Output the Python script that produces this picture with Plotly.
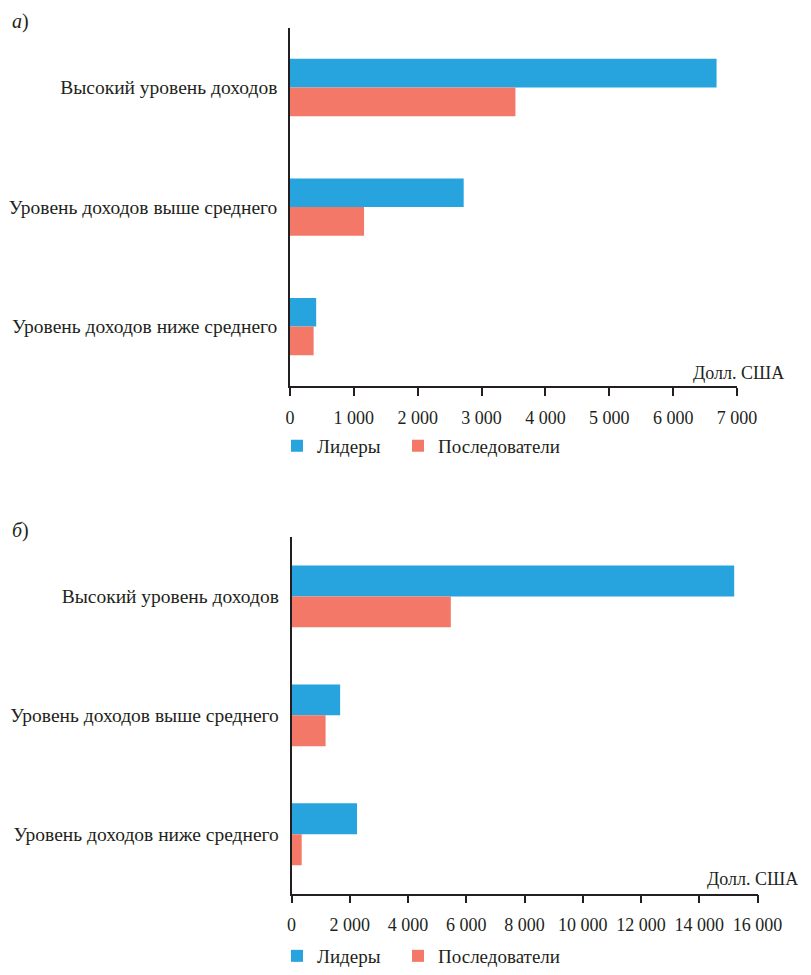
import plotly.graph_objects as go

categories = ["Уровень доходов ниже среднего", "Уровень доходов выше среднего", "Высокий уровень доходов"]
leaders_a = [410, 2720, 6680]
followers_a = [370, 1160, 3530]
leaders_b = [2250, 1670, 15200]
followers_b = [350, 1170, 5470]
ticks_a = [0, 1000, 2000, 3000, 4000, 5000, 6000, 7000]
ticklabels_a = ["0", "1 000", "2 000", "3 000", "4 000", "5 000", "6 000", "7 000"]
ticks_b = [0, 2000, 4000, 6000, 8000, 10000, 12000, 14000, 16000]
ticklabels_b = ["0", "2 000", "4 000", "6 000", "8 000", "10 000", "12 000", "14 000", "16 000"]
series_names = ["Лидеры", "Последователи"]
unit_label = "Долл. США"

BLUE = "#27A4DD"
RED = "#F37867"
INK = "#231F20"
FONT = "Liberation Serif"
W, H = 811, 975

fig = go.Figure()

wa, wb = 0.24, 0.26
fig.add_trace(go.Bar(y=categories, x=leaders_a, orientation="h", name=series_names[0],
                     marker=dict(color=BLUE, line=dict(width=0)), width=wa, offset=0,
                     xaxis="x", yaxis="y", legend="legend"))
fig.add_trace(go.Bar(y=categories, x=followers_a, orientation="h", name=series_names[1],
                     marker=dict(color=RED, line=dict(width=0)), width=wa, offset=-wa,
                     xaxis="x", yaxis="y", legend="legend2"))
fig.add_trace(go.Bar(y=categories, x=leaders_b, orientation="h", name=series_names[0],
                     marker=dict(color=BLUE, line=dict(width=0)), width=wb, offset=0,
                     xaxis="x2", yaxis="y2", legend="legend3"))
fig.add_trace(go.Bar(y=categories, x=followers_b, orientation="h", name=series_names[1],
                     marker=dict(color=RED, line=dict(width=0)), width=wb, offset=-wb,
                     xaxis="x2", yaxis="y2", legend="legend4"))

def px(x):
    return x / W

def py(y):
    return (H - y) / H

xaxis_common = dict(showline=True, linecolor=INK, linewidth=1.5, showgrid=False,
                    zeroline=False, automargin=False, ticks="outside", ticklen=8,
                    tickcolor=INK, tickwidth=1.5, ticklabelstandoff=6,
                    tickfont=dict(family=FONT, size=18, color=INK))
yaxis_common = dict(showline=True, linecolor=INK, linewidth=1.5, showgrid=False,
                    zeroline=False, automargin=False, ticks="", ticklabelstandoff=7,
                    type="category", categoryorder="array", categoryarray=categories,
                    range=[-0.5, 2.5], tickfont=dict(family=FONT, size=19.5, color=INK))
legend_common = dict(orientation="h", xanchor="left", yanchor="middle",
                     font=dict(family=FONT, size=19, color=INK), bgcolor="rgba(0,0,0,0)",
                     itemwidth=30)

fig.update_layout(
    width=W, height=H, margin=dict(l=0, r=0, t=0, b=0),
    paper_bgcolor="white", plot_bgcolor="white",
    barmode="overlay", showlegend=True,
    font=dict(family=FONT, size=18, color=INK),
    xaxis=dict(domain=[px(290), px(737)], range=[0, 7000], anchor="y",
               tickvals=ticks_a, ticktext=ticklabels_a, **xaxis_common),
    yaxis=dict(domain=[py(390), py(28)], anchor="x", **yaxis_common),
    xaxis2=dict(domain=[px(291.5), px(757.5)], range=[0, 16000], anchor="y2",
                tickvals=ticks_b, ticktext=ticklabels_b, **xaxis_common),
    yaxis2=dict(domain=[py(902), py(542)], anchor="x2", **yaxis_common),
    legend=dict(x=px(277), y=py(450), **legend_common),
    legend2=dict(x=px(398), y=py(450), **legend_common),
    legend3=dict(x=px(277), y=py(965), **legend_common),
    legend4=dict(x=px(398), y=py(965), **legend_common),
    annotations=[
        dict(text="<i>а</i>)", x=px(10), y=py(22), xref="paper", yref="paper",
             xanchor="left", yanchor="middle", showarrow=False,
             font=dict(family=FONT, size=20, color=INK)),
        dict(text="<i>б</i>)", x=px(10), y=py(535), xref="paper", yref="paper",
             xanchor="left", yanchor="middle", showarrow=False,
             font=dict(family=FONT, size=20, color=INK)),
        dict(text=unit_label, x=px(786), y=py(376), xref="paper", yref="paper",
             xanchor="right", yanchor="middle", showarrow=False,
             font=dict(family=FONT, size=18, color=INK)),
        dict(text=unit_label, x=px(800), y=py(887), xref="paper", yref="paper",
             xanchor="right", yanchor="middle", showarrow=False,
             font=dict(family=FONT, size=18, color=INK)),
    ],
)

fig.write_html("out.html", config={"displayModeBar": False},
               post_script="document.body.style.margin='0';document.body.style.overflow='hidden';")
